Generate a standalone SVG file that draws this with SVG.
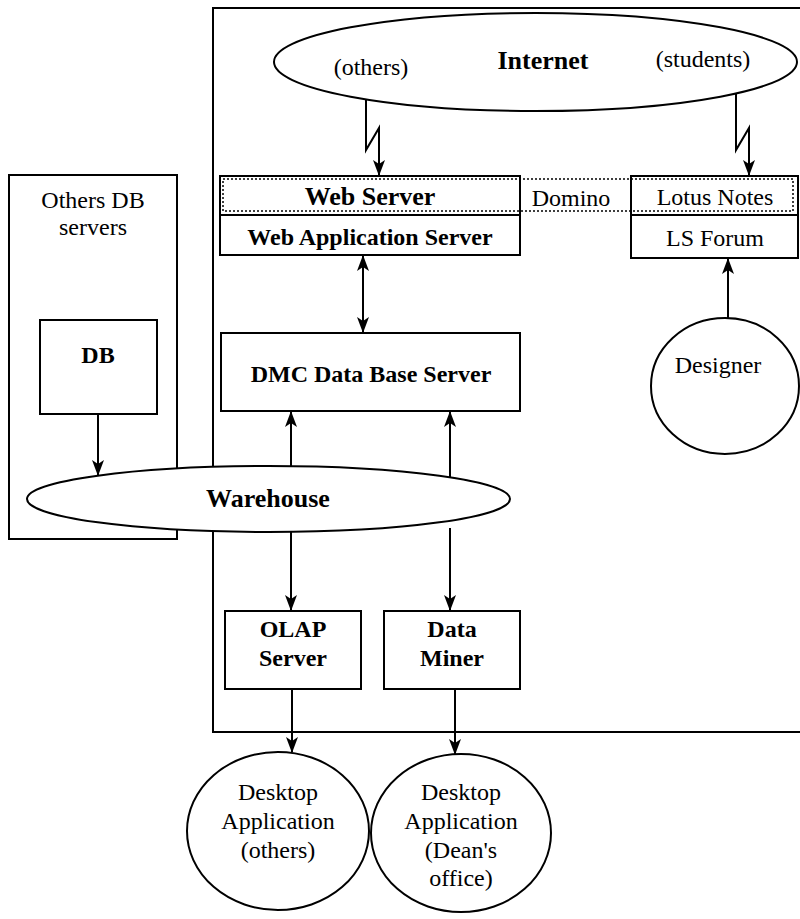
<svg xmlns="http://www.w3.org/2000/svg" width="800" height="919" viewBox="0 0 800 919">
<defs>
<marker id="ah" viewBox="0 0 16 12" refX="15" refY="6" markerWidth="16" markerHeight="12" markerUnits="userSpaceOnUse" orient="auto-start-reverse">
<path d="M0,0 L16,6 L0,12 L4,6 z" fill="#000"/>
</marker>
<style>
.ln{fill:none;stroke:#000;stroke-width:2}
.bx{fill:#fff;stroke:#000;stroke-width:2}
.dot{fill:none;stroke:#000;stroke-width:1.5;stroke-dasharray:2 2}
text{font-family:"Liberation Serif","Times New Roman",serif;font-size:24px;fill:#000;text-anchor:middle}
.b{font-weight:bold}
</style>
</defs>
<rect width="800" height="919" fill="#fff"/>
<g id="outer"><rect class="ln" x="213" y="8" width="620" height="724"/></g>
<g id="others-db"><rect class="ln" x="9" y="175" width="168" height="364"/>
<text x="93" y="208">Others DB</text><text x="93" y="235">servers</text></g>
<g id="db"><rect class="bx" x="40" y="320" width="117" height="94"/><text class="b" x="98" y="363">DB</text></g>
<g id="internet"><ellipse class="bx" cx="535.5" cy="62" rx="261.5" ry="49"/>
<text x="371" y="75">(others)</text><text class="b" x="543" y="69" style="font-size:26px">Internet</text><text x="703" y="67">(students)</text></g>
<g id="web-server"><rect class="bx" x="220" y="176" width="300" height="79"/><line class="ln" x1="220" y1="215" x2="520" y2="215"/>
<text class="b" x="370" y="205" style="font-size:26px">Web Server</text><text class="b" x="370" y="245">Web Application Server</text></g>
<g id="lotus"><rect class="bx" x="631" y="176" width="167" height="82"/><line class="ln" x1="631" y1="215" x2="798" y2="215"/>
<text x="715" y="205">Lotus Notes</text><text x="715" y="246">LS Forum</text></g>
<g id="domino"><rect class="dot" x="223" y="179" width="570" height="32"/><text x="571" y="206">Domino</text></g>
<g id="dmc"><rect class="bx" x="221" y="333" width="299" height="78"/><text class="b" x="371" y="382">DMC Data Base Server</text></g>
<g id="designer"><ellipse class="bx" cx="725" cy="386" rx="74" ry="68"/><text x="718" y="373">Designer</text></g>
<g id="olap"><rect class="bx" x="225" y="611" width="136" height="78"/><text class="b" x="293" y="637">OLAP</text><text class="b" x="293" y="666">Server</text></g>
<g id="miner"><rect class="bx" x="384" y="611" width="136" height="78"/><text class="b" x="452" y="637">Data</text><text class="b" x="452" y="666">Miner</text></g>
<g id="desktop-others"><ellipse class="bx" cx="278" cy="831" rx="91" ry="79"/><text x="278" y="800">Desktop</text><text x="278" y="829">Application</text><text x="278" y="858">(others)</text></g>
<g id="desktop-dean"><ellipse class="bx" cx="461" cy="833" rx="90" ry="79"/><text x="461" y="800">Desktop</text><text x="461" y="829">Application</text><text x="461" y="858">(Dean's</text><text x="461" y="886">office)</text></g>
<g id="connectors">
<polyline class="ln" points="366,99 366,150 379,128 379,175" marker-end="url(#ah)"/>
<polyline class="ln" points="736,94 736,150 749,128 749,175" marker-end="url(#ah)"/>
<line class="ln" x1="363" y1="256" x2="363" y2="332" marker-start="url(#ah)" marker-end="url(#ah)"/>
<line class="ln" x1="728" y1="318" x2="728" y2="259" marker-end="url(#ah)"/>
<line class="ln" x1="98" y1="414" x2="98" y2="475" marker-end="url(#ah)"/>
<line class="ln" x1="291" y1="466" x2="291" y2="412" marker-end="url(#ah)"/>
<line class="ln" x1="450" y1="477" x2="450" y2="412" marker-end="url(#ah)"/>
<line class="ln" x1="291" y1="532" x2="291" y2="610" marker-end="url(#ah)"/>
<line class="ln" x1="450" y1="528" x2="450" y2="610" marker-end="url(#ah)"/>
<line class="ln" x1="292" y1="689" x2="292" y2="752" marker-end="url(#ah)"/>
<line class="ln" x1="455" y1="689" x2="455" y2="754" marker-end="url(#ah)"/>
</g>
<g id="warehouse"><ellipse class="bx" cx="268.5" cy="499" rx="241.5" ry="33"/><text class="b" x="268" y="507" style="font-size:26px">Warehouse</text></g>
</svg>
